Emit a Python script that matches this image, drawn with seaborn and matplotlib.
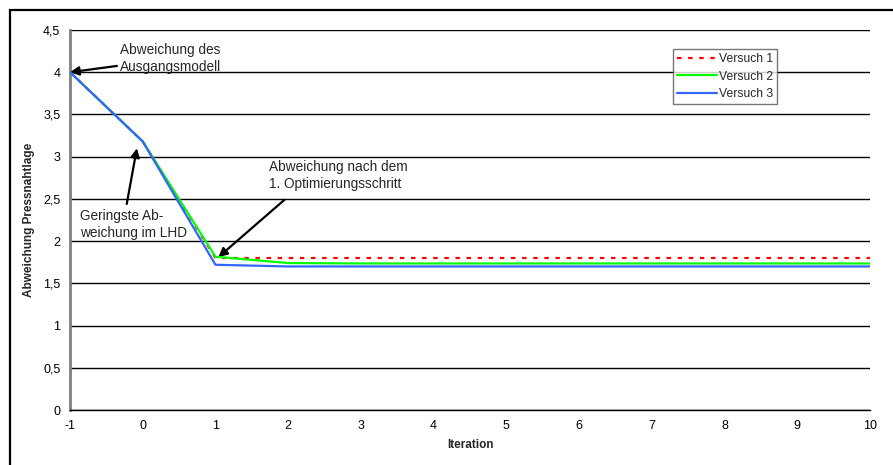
import numpy as np
import pandas as pd
import matplotlib
matplotlib.use("Agg")
import matplotlib.pyplot as plt
import seaborn as sns
from matplotlib.patches import Rectangle

# data
iteration = [-1, 0, 1, 2, 3, 4, 5, 6, 7, 8, 9, 10]
versuch_1 = [4.0, 3.18, 1.80, 1.80, 1.80, 1.80, 1.80, 1.80, 1.80, 1.80, 1.80, 1.80]
versuch_2 = [4.0, 3.18, 1.815, 1.74, 1.735, 1.735, 1.735, 1.735, 1.735, 1.735, 1.735, 1.735]
versuch_3 = [4.0, 3.18, 1.72, 1.70, 1.70, 1.70, 1.70, 1.70, 1.70, 1.70, 1.70, 1.70]
series_names = ["Versuch 1", "Versuch 2", "Versuch 3"]

df = pd.DataFrame({
    "Iteration": iteration * 3,
    "value": versuch_1 + versuch_2 + versuch_3,
    "Versuch": np.repeat(series_names, len(iteration)),
})

sns.set_style("white")
plt.rcParams['font.family'] = ['Liberation Sans', 'DejaVu Sans']

fig = plt.figure(figsize=(8.93, 4.65), dpi=100)
ax = fig.add_axes([70/893, 1-410/465, 800/893, 380/465])

# outer frame of the chart
fig.patches.append(Rectangle((10/893, -0.1), 1.1, 1-10/465+0.1, transform=fig.transFigure,
                             fill=False, edgecolor="black", linewidth=1.6, zorder=0))

styles = {"Versuch 1": ("#ff0000", (0, (2, 3)), 3),
          "Versuch 2": ("#00ff00", "-", 4),
          "Versuch 3": ("#3366ff", "-", 5)}
for name in series_names:
    sub = df[df["Versuch"] == name]
    col, ls, z = styles[name]
    sns.lineplot(data=sub, x="Iteration", y="value", ax=ax, color=col, linestyle=ls,
                 linewidth=1.6, label=name, zorder=z)

ax.set_xlim(-1, 10)
ax.set_ylim(0, 4.5)
ax.set_xticks(iteration)
ax.set_xticklabels([str(i) for i in iteration], fontsize=9)
yt = np.arange(0, 4.51, 0.5)
ax.set_yticks(yt)
ax.set_yticklabels([("%g" % v).replace(".", ",") for v in yt], fontsize=9)
ax.yaxis.grid(True, color="black", linewidth=1)
ax.xaxis.grid(False)
for s in ["top", "right"]:
    ax.spines[s].set_visible(False)
ax.spines["left"].set_color("#808080")
ax.spines["left"].set_linewidth(2)
ax.spines["bottom"].set_color("black")
ax.spines["bottom"].set_linewidth(1)
ax.tick_params(axis="both", direction="out", length=4, width=1, colors="black", pad=3)
ax.tick_params(axis="y", color="#808080")
ax.set_axisbelow(True)

ax.set_xlabel("Iteration", fontsize=8.5, fontweight="bold", labelpad=5)
ax.set_ylabel("Abweichung Pressnahtlage", fontsize=8.5, fontweight="bold", labelpad=6)

leg = ax.legend(loc="upper left", bbox_to_anchor=(603/800, 1-19/380), fontsize=8.7, frameon=True,
                fancybox=False, edgecolor="#555555", handlelength=3.3, handletextpad=0.15,
                borderpad=0.35, labelspacing=0.45, borderaxespad=0)
leg.get_frame().set_linewidth(1.0)

arrow = dict(arrowstyle="-|>", color="black", lw=1.6, mutation_scale=13, shrinkA=0, shrinkB=0)
ax.annotate("Abweichung des\nAusgangsmodell", xy=(-1, 4.0), xytext=(-0.31, 4.16),
            fontsize=9.8, ha="left", va="center", linespacing=1.25, arrowprops=arrow)
ax.annotate("", xy=(-0.08, 3.1), xytext=(-0.22, 2.44), arrowprops=arrow)
ax.text(-0.86, 2.2, "Geringste Ab-\nweichung im LHD", fontsize=9.8, ha="left", va="center",
        linespacing=1.25)
ax.text(1.73, 2.78, "Abweichung nach dem\n1. Optimierungsschritt", fontsize=9.8, ha="left",
        va="center", linespacing=1.25)
ax.annotate("", xy=(1.04, 1.81), xytext=(1.95, 2.49), arrowprops=arrow)

fig.savefig("out.png", dpi=100)
